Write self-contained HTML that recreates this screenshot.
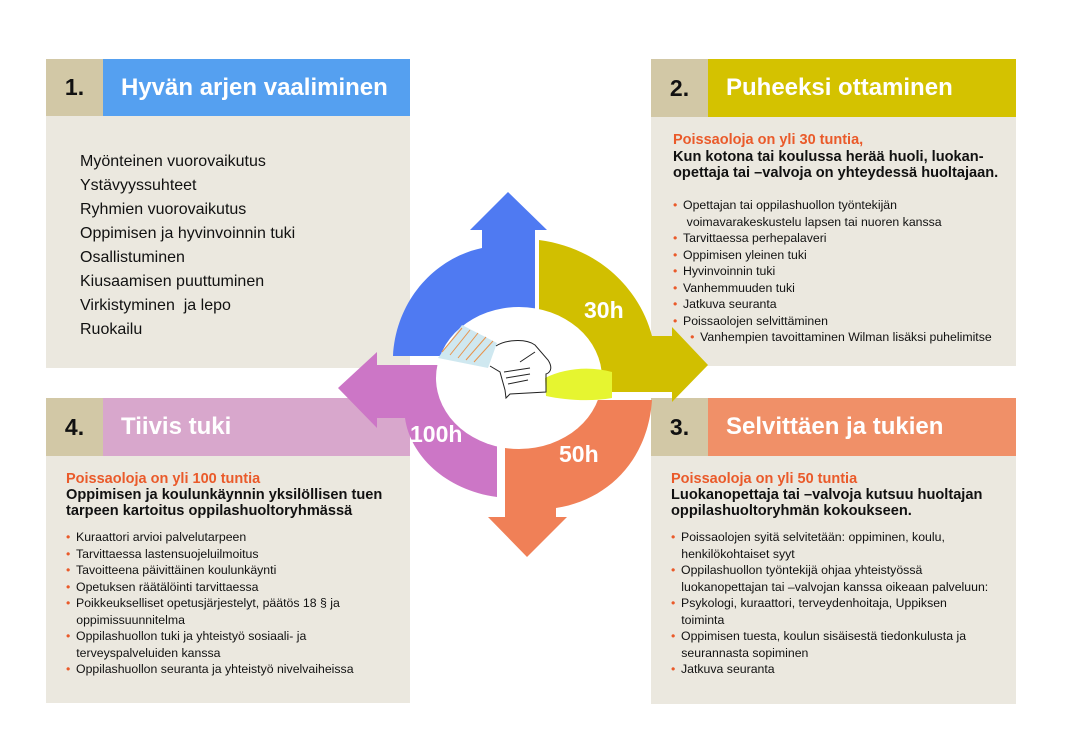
<!DOCTYPE html>
<html><head><meta charset="utf-8"><style>
*{margin:0;padding:0;box-sizing:border-box}
body{width:1068px;height:755px;background:#fff;position:relative;overflow:hidden;font-family:"Liberation Sans",Arial,sans-serif;color:#111}
.p{position:absolute;background:#ebe8df}
.num{position:absolute;background:#d2c8a6;font-weight:bold;font-size:23px;color:#111;display:flex;align-items:center;justify-content:center}
.hd{position:absolute;font-weight:bold;font-size:24px;color:#fff;display:flex;align-items:center;padding-left:18px}
.t{position:absolute;white-space:nowrap}
.red{color:#ea5a2a;font-weight:bold;font-size:14.5px}
.blk{font-weight:bold;font-size:14.6px;line-height:16px}
.b{font-size:12.3px;line-height:16.5px}
.b i{font-style:normal;color:#ea5a2a;display:inline-block;width:10px}
svg{position:absolute;left:0;top:0}
</style></head><body>

<div class="p" style="left:46px;top:59px;width:364px;height:309px"></div>
<div class="num" style="left:46px;top:59px;width:57px;height:57px">1.</div>
<div class="hd" style="left:103px;top:59px;width:307px;height:57px;background:#55a0f0">Hyvän arjen vaaliminen</div>
<div class="t" style="left:80px;top:150px;font-size:16px;line-height:24px">Myönteinen vuorovaikutus<br>Ystävyyssuhteet<br>Ryhmien vuorovaikutus<br>Oppimisen ja hyvinvoinnin tuki<br>Osallistuminen<br>Kiusaamisen puuttuminen<br>Virkistyminen&nbsp; ja lepo<br>Ruokailu</div>

<div class="p" style="left:651px;top:59px;width:365px;height:307px"></div>
<div class="num" style="left:651px;top:59px;width:57px;height:58px">2.</div>
<div class="hd" style="left:708px;top:59px;width:308px;height:58px;background:#d4c200">Puheeksi ottaminen</div>
<div class="t red" style="left:673px;top:132px">Poissaoloja on yli 30 tuntia,</div>
<div class="t blk" style="left:673px;top:149px">Kun kotona tai koulussa herää huoli, luokan-<br>opettaja tai –valvoja on yhteydessä huoltajaan.</div>
<div class="t b" style="left:673px;top:197px"><i>•</i>Opettajan tai oppilashuollon työntekijän<br>&nbsp;&nbsp;&nbsp;&nbsp;voimavarakeskustelu lapsen tai nuoren kanssa<br><i>•</i>Tarvittaessa perhepalaveri<br><i>•</i>Oppimisen yleinen tuki<br><i>•</i>Hyvinvoinnin tuki<br><i>•</i>Vanhemmuuden tuki<br><i>•</i>Jatkuva seuranta<br><i>•</i>Poissaolojen selvittäminen<br>&nbsp;&nbsp;&nbsp;&nbsp;&nbsp;<i>•</i>Vanhempien tavoittaminen Wilman lisäksi puhelimitse</div>

<div class="p" style="left:46px;top:398px;width:364px;height:305px"></div>
<div class="num" style="left:46px;top:398px;width:57px;height:58px">4.</div>
<div class="hd" style="left:103px;top:398px;width:307px;height:58px;background:#d8a7cc">Tiivis tuki</div>
<div class="t red" style="left:66px;top:471px">Poissaoloja on yli 100 tuntia</div>
<div class="t blk" style="left:66px;top:487px">Oppimisen ja koulunkäynnin yksilöllisen tuen<br>tarpeen kartoitus oppilashuoltoryhmässä</div>
<div class="t b" style="left:66px;top:529px"><i>•</i>Kuraattori arvioi palvelutarpeen<br><i>•</i>Tarvittaessa lastensuojeluilmoitus<br><i>•</i>Tavoitteena päivittäinen koulunkäynti<br><i>•</i>Opetuksen räätälöinti tarvittaessa<br><i>•</i>Poikkeukselliset opetusjärjestelyt, päätös 18 § ja<br>&nbsp;&nbsp;&nbsp;oppimissuunnitelma<br><i>•</i>Oppilashuollon tuki ja yhteistyö sosiaali- ja<br>&nbsp;&nbsp;&nbsp;terveyspalveluiden kanssa<br><i>•</i>Oppilashuollon seuranta ja yhteistyö nivelvaiheissa</div>

<div class="p" style="left:651px;top:398px;width:365px;height:306px"></div>
<div class="num" style="left:651px;top:398px;width:57px;height:58px">3.</div>
<div class="hd" style="left:708px;top:398px;width:308px;height:58px;background:#f09068">Selvittäen ja tukien</div>
<div class="t red" style="left:671px;top:471px">Poissaoloja on yli 50 tuntia</div>
<div class="t blk" style="left:671px;top:487px">Luokanopettaja tai –valvoja kutsuu huoltajan<br>oppilashuoltoryhmän kokoukseen.</div>
<div class="t b" style="left:671px;top:529px"><i>•</i>Poissaolojen syitä selvitetään: oppiminen, koulu,<br>&nbsp;&nbsp;&nbsp;henkilökohtaiset syyt<br><i>•</i>Oppilashuollon työntekijä ohjaa yhteistyössä<br>&nbsp;&nbsp;&nbsp;luokanopettajan tai –valvojan kanssa oikeaan palveluun:<br><i>•</i>Psykologi, kuraattori, terveydenhoitaja, Uppiksen<br>&nbsp;&nbsp;&nbsp;toiminta<br><i>•</i>Oppimisen tuesta, koulun sisäisestä tiedonkulusta ja<br>&nbsp;&nbsp;&nbsp;seurannasta sopiminen<br><i>•</i>Jatkuva seuranta</div>

<svg width="1068" height="755" viewBox="0 0 1068 755">
<path d="M393,356 C396,300 435,258 482,248 L482,230 L470,230 L508,192 L547,230 L535,230 L535,356 Z" fill="#4f7af2"/>
<path d="M539,240 C600,248 640,290 652,336 L672,336 L672,327 L708,365 L672,402 L672,392 L539,392 Z" fill="#d1bf00"/>
<path d="M652,400 C648,460 608,500 556,508 L556,517 L567,517 L527,557 L488,517 L505,517 L505,400 Z" fill="#f08057"/>
<path d="M497,497 C445,490 410,455 405,418 L377,418 L377,428 L338,388 L377,352 L377,365 L497,365 Z" fill="#cc76c6"/>
<ellipse cx="519" cy="378" rx="83" ry="71" fill="#fff"/>
<path d="M462,325 L497,343 L488,368 L438,358 Z" fill="#cfe8f0"/>
<g stroke="#e8924a" stroke-width="1"><line x1="450" y1="355" x2="470" y2="330"/><line x1="458" y1="358" x2="478" y2="333"/><line x1="466" y1="360" x2="486" y2="337"/><line x1="474" y1="362" x2="493" y2="341"/><line x1="442" y1="352" x2="462" y2="328"/></g>
<path d="M545,378 C565,368 590,366 612,372 L612,398 C590,402 565,400 546,396 Z" fill="#e6f530"/>
<g fill="none" stroke="#222" stroke-width="1"><path d="M496,346 C505,340 525,338 535,345 L548,360 C552,366 552,372 546,374 L546,392 L510,394 L506,398 L505,390 L500,372 L490,366"/><path d="M504,372 L530,368 M506,378 L530,374 M508,384 L528,380 M535,352 L520,362"/></g>
<g fill="#fff" font-family="Liberation Sans,Arial,sans-serif" font-weight="bold" font-size="23">
<text x="584" y="318">30h</text><text x="410" y="442">100h</text><text x="559" y="462">50h</text></g>
</svg>
</body></html>
